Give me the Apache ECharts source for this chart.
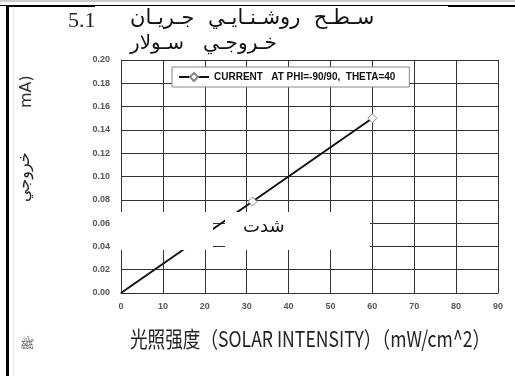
<!DOCTYPE html>
<html>
<head>
<meta charset="utf-8">
<script src="https://cdn.jsdelivr.net/npm/echarts@6/dist/echarts.min.js"></script>
<style>
  html, body { margin: 0; padding: 0; background: #fff; }
  #chart { width: 515px; height: 376px; }
</style>
</head>
<body>
<div id="chart"></div>
<script>
// data
const xTicks = [0, 10, 20, 30, 40, 50, 60, 70, 80, 90]
const intensity = [0, 31.4, 60]
const current = [0, 0.0785, 0.15]
const seriesName = 'CURRENT   AT PHI=-90/90,  THETA=40'
const xName = '光照强度（SOLAR INTENSITY）（mW/cm^2）'

const chart = echarts.init(document.getElementById('chart'))

const points = intensity.map(function(x, i) {
  const p = { value: [x, current[i]] }
  if (i === 0) p.symbolSize = 0
  return p
})

const labelStyle = {
  color: '#555',
  fontSize: 9,
  fontWeight: 'bold',
  fontFamily: 'Liberation Sans, Arial, sans-serif'
}

chart.setOption({
  animation: false,
  backgroundColor: '#fff',
  grid: {
    left: 121,
    right: 17,
    top: 60,
    bottom: 83
  },
  legend: {
    left: 172,
    top: 67,
    itemWidth: 30,
    itemHeight: 10,
    padding: [5, 14, 5, 6],
    itemGap: 2,
    backgroundColor: '#fff',
    borderColor: '#888',
    borderWidth: 1,
    textStyle: {
      color: '#111',
      fontSize: 10,
      fontWeight: 'bold',
      fontFamily: 'Liberation Sans, Arial, sans-serif'
    },
    data: [seriesName]
  },
  xAxis: {
    type: 'value',
    min: xTicks[0],
    max: xTicks[xTicks.length - 1],
    interval: 10,
    axisLine: { lineStyle: { color: '#333', width: 1 } },
    axisTick: { show: false },
    axisLabel: Object.assign({ margin: 9 }, labelStyle),
    splitLine: { show: true, lineStyle: { color: '#333', width: 1 } }
  },
  yAxis: {
    type: 'value',
    min: 0,
    max: 0.2,
    interval: 0.02,
    axisLine: { show: true, lineStyle: { color: '#333', width: 1 } },
    axisTick: { show: false },
    axisLabel: Object.assign({
      margin: 11,
      formatter: function(v) { return v.toFixed(2) }
    }, labelStyle),
    splitLine: { show: true, lineStyle: { color: '#333', width: 1 } }
  },
  series: [
    {
      name: seriesName,
      type: 'line',
      data: points,
      symbol: 'diamond',
      symbolSize: 9,
      showAllSymbol: true,
      lineStyle: { color: '#111', width: 2 },
      itemStyle: { color: '#fff', borderColor: '#888', borderWidth: 1 },
      z: 3
    }
  ],
  graphic: [
    // scanned page borders
    { type: 'rect', shape: { x: 0, y: 0, width: 515, height: 2 }, style: { fill: '#ccc' }, silent: true },
    { type: 'rect', shape: { x: 0, y: 5, width: 515, height: 1 }, style: { fill: '#000' }, silent: true },
    { type: 'rect', shape: { x: 8, y: 5, width: 87, height: 2 }, style: { fill: '#000' }, silent: true },
    { type: 'rect', shape: { x: 448, y: 5, width: 67, height: 2 }, style: { fill: '#000' }, silent: true },
    { type: 'rect', shape: { x: 6, y: 5, width: 3, height: 371 }, style: { fill: '#000' }, silent: true },
    { type: 'rect', shape: { x: 13, y: 8, width: 1, height: 368 }, style: { fill: '#e8e8e8' }, silent: true },
    // title lines
    {
      type: 'text', left: 68, top: 10, silent: true,
      style: { text: '5.1', fill: '#222', font: '22px "Liberation Serif", serif' }
    },
    {
      type: 'text', left: 130, top: 8, silent: true,
      style: { text: 'سـطـح  روشـنـايـي  جـريـان', fill: '#111', font: '21px "DejaVu Sans", sans-serif' }
    },
    {
      type: 'text', left: 130, top: 34, silent: true, z: 10,
      style: { text: 'خـروجـي   سـولار', fill: '#111', font: '20px "DejaVu Sans", sans-serif' }
    },
    // y axis name pieces
    {
      type: 'text', x: 19, y: 108, rotation: Math.PI / 2, silent: true,
      style: { text: 'mA)', fill: '#333', font: '16px "DejaVu Sans", sans-serif' }
    },
    {
      type: 'text', x: 17, y: 202, rotation: Math.PI / 2, silent: true,
      style: { text: 'خروجي', fill: '#222', font: '16px "DejaVu Sans", sans-serif' }
    },
    {
      type: 'text', left: 20, top: 339, silent: true,
      style: { text: 'ﷺ', fill: '#333', font: '12px "DejaVu Sans", sans-serif' }
    },
    // x axis title, squeezed like the narrow font of the scan
    {
      type: 'text', x: 310, y: 339, scaleX: 0.8, silent: true,
      style: {
        text: xName,
        fill: '#222',
        font: '22px "Noto Sans CJK SC", sans-serif',
        textAlign: 'center',
        textVerticalAlign: 'middle'
      }
    },
    // pasted white patches over the plot
    { type: 'rect', z: 20, shape: { x: 113, y: 212, width: 100, height: 38 }, style: { fill: '#fff' }, silent: true },
    { type: 'rect', z: 20, shape: { x: 225, y: 212, width: 145, height: 38 }, style: { fill: '#fff' }, silent: true },
    {
      type: 'text', z: 21, left: 243, top: 218, silent: true,
      style: { text: 'شدت', fill: '#111', font: '18px "DejaVu Sans", sans-serif' }
    }
  ]
})
</script>
</body>
</html>
